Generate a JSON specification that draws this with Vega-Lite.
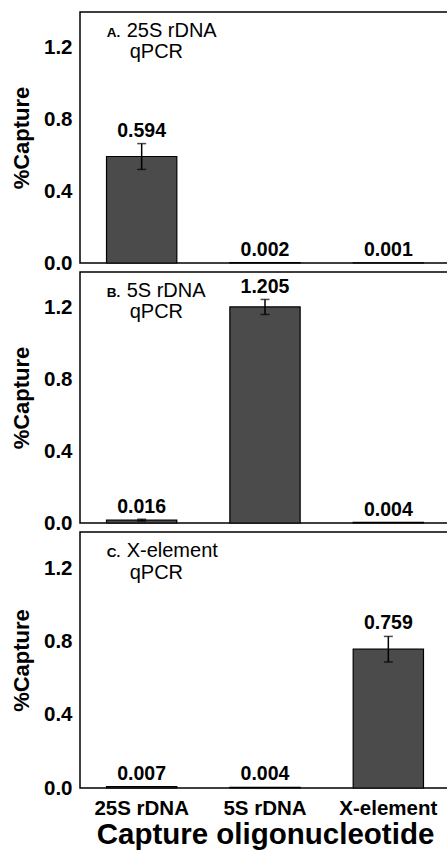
{
  "$schema": "https://vega.github.io/schema/vega-lite/v6.json",
  "padding": {"left": 9, "top": 11, "right": 0, "bottom": 5},
  "bounds": "flush",
  "spacing": 9,
  "datasets": {
    "bars": [
      {"panel": "A", "capture": "25S rDNA", "value": 0.594, "err": 0.072, "label": "0.594"},
      {"panel": "A", "capture": "5S rDNA", "value": 0.002, "err": 0.0, "label": "0.002"},
      {"panel": "A", "capture": "X-element", "value": 0.001, "err": 0.0, "label": "0.001"},
      {"panel": "B", "capture": "25S rDNA", "value": 0.016, "err": 0.005, "label": "0.016"},
      {"panel": "B", "capture": "5S rDNA", "value": 1.205, "err": 0.042, "label": "1.205"},
      {"panel": "B", "capture": "X-element", "value": 0.004, "err": 0.0, "label": "0.004"},
      {"panel": "C", "capture": "25S rDNA", "value": 0.007, "err": 0.0, "label": "0.007"},
      {"panel": "C", "capture": "5S rDNA", "value": 0.004, "err": 0.0, "label": "0.004"},
      {"panel": "C", "capture": "X-element", "value": 0.759, "err": 0.07, "label": "0.759"}
    ],
    "notes": [
      {"panel": "A", "letter": "A.", "line1": "25S rDNA", "line2": "qPCR"},
      {"panel": "B", "letter": "B.", "line1": "5S rDNA", "line2": "qPCR"},
      {"panel": "C", "letter": "C.", "line1": "X-element", "line2": "qPCR"}
    ]
  },
  "vconcat": [
    {
      "width": 370, "height": 251,
      "encoding": {
        "x": {"field": "capture", "type": "nominal", "sort": ["25S rDNA", "5S rDNA", "X-element"], "scale": {"paddingInner": 0.43, "paddingOuter": 0.215}, "axis": null},
        "y": {"type": "quantitative", "scale": {"domain": [0, 1.4], "nice": false, "zero": true}, "axis": {"title": "%Capture", "values": [0, 0.4, 0.8, 1.2], "format": ".1f"}}
      },
      "layer": [
        {"data": {"name": "bars"}, "transform": [{"filter": "datum.panel === 'A'"}],
         "mark": {"type": "bar", "color": "#4b4b4b", "stroke": "black", "strokeWidth": 1.2},
         "encoding": {"y": {"field": "value", "type": "quantitative"}}},
        {"data": {"name": "bars"}, "transform": [{"filter": "datum.panel === 'A' && datum.err > 0"}],
         "mark": {"type": "errorbar", "color": "black", "thickness": 1.5, "ticks": {"size": 9, "color": "black", "thickness": 1.5}},
         "encoding": {"y": {"field": "value", "type": "quantitative"}, "yError": {"field": "err"}}},
        {"data": {"name": "bars"}, "transform": [{"filter": "datum.panel === 'A'"}, {"calculate": "datum.value + datum.err", "as": "hi"}],
         "mark": {"type": "text", "font": "Liberation Sans", "fontWeight": "bold", "fontSize": 19.5, "baseline": "alphabetic", "dy": -7, "color": "black"},
         "encoding": {"y": {"field": "hi", "type": "quantitative"}, "text": {"field": "label"}}},
        {"data": {"name": "notes"}, "transform": [{"filter": "datum.panel === 'A'"}],
         "mark": {"type": "text", "font": "Liberation Sans", "fontWeight": "bold", "fontSize": 13.5, "align": "left", "baseline": "alphabetic", "dx": -35, "color": "black"},
         "encoding": {"x": {"datum": "25S rDNA", "type": "nominal"}, "y": {"datum": 1.262, "type": "quantitative"}, "text": {"field": "letter"}}},
        {"data": {"name": "notes"}, "transform": [{"filter": "datum.panel === 'A'"}],
         "mark": {"type": "text", "font": "Liberation Sans", "fontSize": 20, "align": "left", "baseline": "alphabetic", "dx": -15, "color": "black"},
         "encoding": {"x": {"datum": "25S rDNA", "type": "nominal"}, "y": {"datum": 1.262, "type": "quantitative"}, "text": {"field": "line1"}}},
        {"data": {"name": "notes"}, "transform": [{"filter": "datum.panel === 'A'"}],
         "mark": {"type": "text", "font": "Liberation Sans", "fontSize": 20, "align": "left", "baseline": "alphabetic", "dx": -12, "color": "black"},
         "encoding": {"x": {"datum": "25S rDNA", "type": "nominal"}, "y": {"datum": 1.145, "type": "quantitative"}, "text": {"field": "line2"}}}
      ]
    },
    {
      "width": 370, "height": 251,
      "encoding": {
        "x": {"field": "capture", "type": "nominal", "sort": ["25S rDNA", "5S rDNA", "X-element"], "scale": {"paddingInner": 0.43, "paddingOuter": 0.215}, "axis": null},
        "y": {"type": "quantitative", "scale": {"domain": [0, 1.4], "nice": false, "zero": true}, "axis": {"title": "%Capture", "values": [0, 0.4, 0.8, 1.2], "format": ".1f"}}
      },
      "layer": [
        {"data": {"name": "bars"}, "transform": [{"filter": "datum.panel === 'B'"}],
         "mark": {"type": "bar", "color": "#4b4b4b", "stroke": "black", "strokeWidth": 1.2},
         "encoding": {"y": {"field": "value", "type": "quantitative"}}},
        {"data": {"name": "bars"}, "transform": [{"filter": "datum.panel === 'B' && datum.err > 0"}],
         "mark": {"type": "errorbar", "color": "black", "thickness": 1.5, "ticks": {"size": 9, "color": "black", "thickness": 1.5}},
         "encoding": {"y": {"field": "value", "type": "quantitative"}, "yError": {"field": "err"}}},
        {"data": {"name": "bars"}, "transform": [{"filter": "datum.panel === 'B'"}, {"calculate": "datum.value + datum.err", "as": "hi"}],
         "mark": {"type": "text", "font": "Liberation Sans", "fontWeight": "bold", "fontSize": 19.5, "baseline": "alphabetic", "dy": -6, "color": "black"},
         "encoding": {"y": {"field": "hi", "type": "quantitative"}, "text": {"field": "label"}}},
        {"data": {"name": "notes"}, "transform": [{"filter": "datum.panel === 'B'"}],
         "mark": {"type": "text", "font": "Liberation Sans", "fontWeight": "bold", "fontSize": 13.5, "align": "left", "baseline": "alphabetic", "dx": -35, "color": "black"},
         "encoding": {"x": {"datum": "25S rDNA", "type": "nominal"}, "y": {"datum": 1.262, "type": "quantitative"}, "text": {"field": "letter"}}},
        {"data": {"name": "notes"}, "transform": [{"filter": "datum.panel === 'B'"}],
         "mark": {"type": "text", "font": "Liberation Sans", "fontSize": 20, "align": "left", "baseline": "alphabetic", "dx": -15, "color": "black"},
         "encoding": {"x": {"datum": "25S rDNA", "type": "nominal"}, "y": {"datum": 1.262, "type": "quantitative"}, "text": {"field": "line1"}}},
        {"data": {"name": "notes"}, "transform": [{"filter": "datum.panel === 'B'"}],
         "mark": {"type": "text", "font": "Liberation Sans", "fontSize": 20, "align": "left", "baseline": "alphabetic", "dx": -12, "color": "black"},
         "encoding": {"x": {"datum": "25S rDNA", "type": "nominal"}, "y": {"datum": 1.145, "type": "quantitative"}, "text": {"field": "line2"}}}
      ]
    },
    {
      "width": 370, "height": 256,
      "encoding": {
        "x": {"field": "capture", "type": "nominal", "sort": ["25S rDNA", "5S rDNA", "X-element"], "scale": {"paddingInner": 0.43, "paddingOuter": 0.215}, "axis": {"title": "Capture oligonucleotide", "labelAngle": 0}},
        "y": {"type": "quantitative", "scale": {"domain": [0, 1.4], "nice": false, "zero": true}, "axis": {"title": "%Capture", "values": [0, 0.4, 0.8, 1.2], "format": ".1f"}}
      },
      "layer": [
        {"data": {"name": "bars"}, "transform": [{"filter": "datum.panel === 'C'"}],
         "mark": {"type": "bar", "color": "#4b4b4b", "stroke": "black", "strokeWidth": 1.2},
         "encoding": {"y": {"field": "value", "type": "quantitative"}}},
        {"data": {"name": "bars"}, "transform": [{"filter": "datum.panel === 'C' && datum.err > 0"}],
         "mark": {"type": "errorbar", "color": "black", "thickness": 1.5, "ticks": {"size": 9, "color": "black", "thickness": 1.5}},
         "encoding": {"y": {"field": "value", "type": "quantitative"}, "yError": {"field": "err"}}},
        {"data": {"name": "bars"}, "transform": [{"filter": "datum.panel === 'C'"}, {"calculate": "datum.value + datum.err", "as": "hi"}],
         "mark": {"type": "text", "font": "Liberation Sans", "fontWeight": "bold", "fontSize": 19.5, "baseline": "alphabetic", "dy": -7, "color": "black"},
         "encoding": {"y": {"field": "hi", "type": "quantitative"}, "text": {"field": "label"}}},
        {"data": {"name": "notes"}, "transform": [{"filter": "datum.panel === 'C'"}],
         "mark": {"type": "text", "font": "Liberation Sans", "fontWeight": "bold", "fontSize": 13.5, "align": "left", "baseline": "alphabetic", "dx": -35, "color": "black"},
         "encoding": {"x": {"datum": "25S rDNA", "type": "nominal"}, "y": {"datum": 1.262, "type": "quantitative"}, "text": {"field": "letter"}}},
        {"data": {"name": "notes"}, "transform": [{"filter": "datum.panel === 'C'"}],
         "mark": {"type": "text", "font": "Liberation Sans", "fontSize": 20, "align": "left", "baseline": "alphabetic", "dx": -15, "color": "black"},
         "encoding": {"x": {"datum": "25S rDNA", "type": "nominal"}, "y": {"datum": 1.262, "type": "quantitative"}, "text": {"field": "line1"}}},
        {"data": {"name": "notes"}, "transform": [{"filter": "datum.panel === 'C'"}],
         "mark": {"type": "text", "font": "Liberation Sans", "fontSize": 20, "align": "left", "baseline": "alphabetic", "dx": -12, "color": "black"},
         "encoding": {"x": {"datum": "25S rDNA", "type": "nominal"}, "y": {"datum": 1.145, "type": "quantitative"}, "text": {"field": "line2"}}}
      ]
    }
  ],
  "config": {
    "font": "Liberation Sans",
    "view": {"stroke": "black", "strokeWidth": 1.5},
    "axis": {"grid": false, "ticks": false, "domain": false, "labelFont": "Liberation Sans", "labelFontWeight": "bold", "labelColor": "black", "titleFont": "Liberation Sans", "titleFontWeight": "bold", "titleColor": "black"},
    "axisY": {"labelFontSize": 20.5, "labelPadding": 8, "titleFontSize": 22, "titlePadding": 10},
    "axisX": {"labelFontSize": 20.5, "labelPadding": 10, "titleFontSize": 29.5, "titlePadding": 2}
  }
}
